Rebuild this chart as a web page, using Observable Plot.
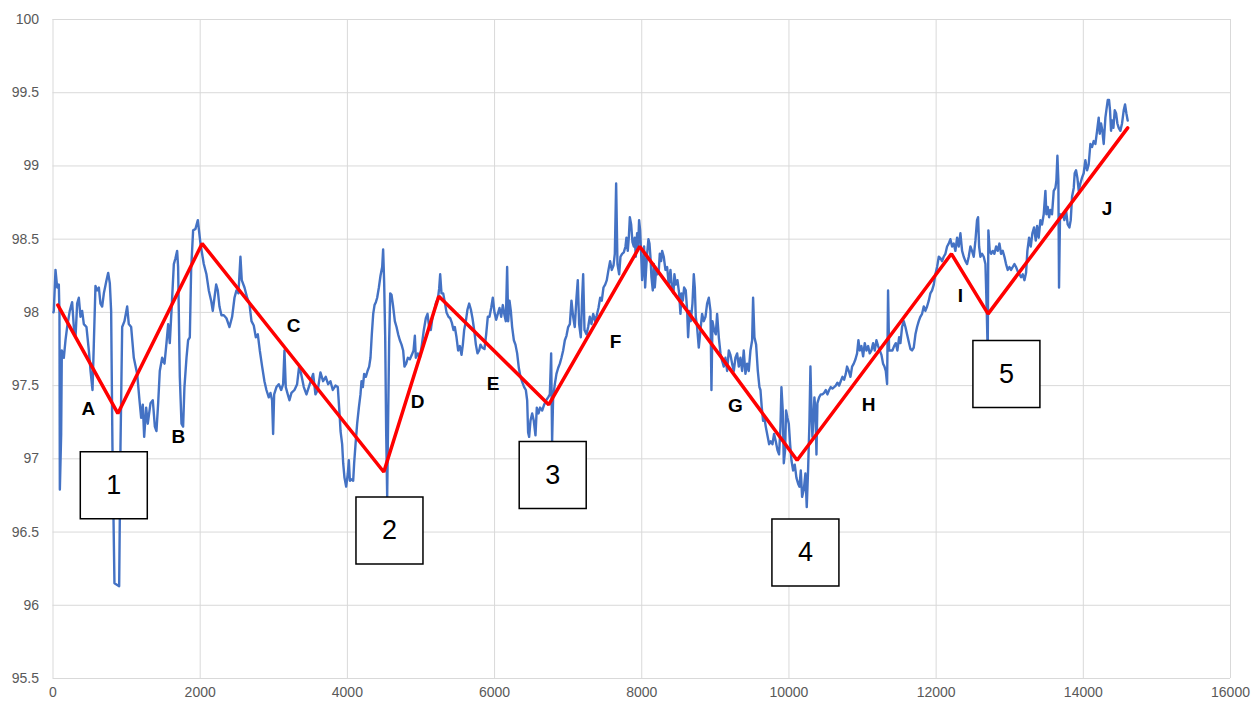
<!DOCTYPE html>
<html><head><meta charset="utf-8">
<script src="https://cdn.jsdelivr.net/npm/d3@7"></script>
<script src="https://cdn.jsdelivr.net/npm/@observablehq/plot@0.6"></script>
<style>html,body{margin:0;padding:0;background:#fff}#chart{width:1252px;height:704px}</style>
</head><body><div id="chart"></div>
<script>
const xTicks = [0, 2000, 4000, 6000, 8000, 10000, 12000, 14000, 16000];
const yTicks = [95.5, 96, 96.5, 97, 97.5, 98, 98.5, 99, 99.5, 100];

// blue measured series [x, value]
const series = [
[5,98.00],[11,98.01],[34,98.29],[57,98.17],[79,98.19],[88,97.99],[93,96.79],[111,97.17],[120,97.74],[147,97.69],[170,97.81],[192,97.90],[228,98.01],[260,98.07],[283,97.90],[306,97.83],[328,98.06],[351,98.10],[374,97.97],[396,98.01],[419,97.92],[455,97.90],[487,97.74],[510,97.60],[537,97.47],[555,97.79],[577,98.18],[600,98.15],[623,98.17],[645,98.06],[668,98.04],[691,98.13],[727,98.22],[750,98.27],[772,98.20],[790,98.01],[808,97.08],[835,96.15],[899,96.13],[917,97.08],[940,97.90],[971,97.94],[1008,98.04],[1030,97.92],[1062,97.90],[1098,97.69],[1144,97.58],[1175,97.40],[1198,97.28],[1220,97.37],[1239,97.15],[1266,97.35],[1288,97.24],[1325,97.38],[1356,97.40],[1384,97.22],[1406,97.19],[1429,97.38],[1451,97.60],[1483,97.69],[1515,97.65],[1542,97.79],[1565,97.92],[1587,97.79],[1610,98.01],[1642,98.33],[1664,98.37],[1687,98.42],[1700,98.31],[1723,97.56],[1746,97.24],[1768,97.22],[1786,97.49],[1814,97.69],[1836,97.81],[1859,97.83],[1877,98.29],[1904,98.56],[1936,98.57],[1968,98.63],
[2004,98.47],[2026,98.40],[2049,98.33],[2085,98.26],[2117,98.15],[2149,98.08],[2171,98.01],[2194,98.10],[2217,98.19],[2239,98.15],[2262,98.04],[2289,97.98],[2321,97.98],[2357,97.96],[2398,97.90],[2434,97.97],[2466,98.10],[2493,98.15],[2520,98.13],[2547,98.38],[2565,98.22],[2602,98.17],[2638,98.10],[2669,98.06],[2697,97.94],[2728,97.91],[2756,97.83],[2783,97.85],[2810,97.74],[2842,97.63],[2873,97.53],[2900,97.47],[2932,97.42],[2955,97.45],[2977,97.40],[2991,97.17],[3005,97.44],[3036,97.49],[3068,97.51],[3100,97.47],[3127,97.51],[3145,97.74],[3163,97.49],[3190,97.44],[3213,97.40],[3240,97.45],[3281,97.47],[3317,97.51],[3344,97.63],[3372,97.58],[3408,97.49],[3444,97.44],[3489,97.51],[3535,97.58],[3566,97.44],[3598,97.47],[3634,97.59],[3670,97.53],[3706,97.56],[3738,97.51],[3770,97.53],[3802,97.47],[3838,97.50],[3870,97.49],[3897,97.28],
[3907,97.19],[3929,97.10],[3943,96.97],[3961,96.87],[3984,96.81],[4006,96.90],[4020,96.99],[4034,96.85],[4056,96.86],[4079,96.85],[4092,96.97],[4111,97.10],[4133,97.24],[4156,97.35],[4178,97.44],[4192,97.53],[4210,97.49],[4228,97.58],[4251,97.56],[4274,97.60],[4296,97.63],[4314,97.69],[4332,97.85],[4351,97.99],[4369,98.05],[4387,98.07],[4405,98.10],[4428,98.17],[4450,98.25],[4473,98.31],[4486,98.43],[4500,98.20],[4514,97.83],[4527,97.19],[4541,96.74],[4554,97.28],[4568,97.81],[4582,98.13],[4600,98.12],[4622,98.04],[4645,97.94],[4668,97.90],[4690,97.85],[4713,97.81],[4736,97.78],[4758,97.74],[4776,97.63],[4799,97.65],[4822,97.69],[4849,97.68],[4876,97.71],[4899,97.74],[4917,97.84],[4930,97.69],[4957,97.72],[4985,97.69],[5012,97.78],[5039,97.88],[5066,97.96],[5089,97.99],[5111,97.90],[5134,97.88],[5157,97.97],[5179,98.01],[5207,98.07],[5229,98.09],[5247,98.16],[5261,98.26],[5279,98.13],[5302,98.13],[5324,98.07],[5347,98.00],[5374,97.97],[5397,97.96],[5419,97.93],[5442,97.88],[5460,97.90],[5483,97.83],[5505,97.74],[5528,97.77],[5551,97.71],[5569,97.78],[5587,97.88],[5610,97.94],[5632,98.02],[5655,98.06],[5678,98.02],[5700,97.96],[5723,97.88],[5746,97.78],[5768,97.72],[5791,97.74],[5809,97.78],
[5831,97.76],[5863,97.75],[5886,97.85],[5908,97.97],[5931,97.97],[5954,98.03],[5976,98.10],[5999,98.00],[6022,97.95],[6044,97.99],[6067,98.03],[6090,97.97],[6112,98.05],[6135,97.98],[6153,97.94],[6171,98.31],[6185,97.94],[6203,98.08],[6221,98.01],[6239,97.90],[6262,97.81],[6284,97.78],[6307,97.72],[6330,97.62],[6352,97.56],[6379,97.52],[6402,97.49],[6425,97.47],[6443,97.40],[6456,97.18],[6470,97.15],[6488,97.26],[6511,97.31],[6533,97.26],[6556,97.16],[6574,97.35],[6597,97.31],[6619,97.35],[6647,97.33],[6674,97.37],[6701,97.40],[6728,97.42],[6751,97.44],[6769,97.72],[6782,97.12],[6796,97.42],[6819,97.51],[6841,97.58],[6864,97.62],[6887,97.65],[6909,97.69],[6932,97.74],[6955,97.81],[6977,97.84],[7000,97.90],[7023,97.92],[7045,98.08],[7068,97.97],[7090,97.90],[7113,98.10],[7131,98.22],[7149,97.92],[7172,97.83],[7190,98.10],[7204,98.26],[7222,97.88],[7249,97.85],[7272,97.90],[7294,97.97],[7317,97.92],[7340,97.99],[7367,97.94],[7389,97.98],[7412,98.03],[7435,98.10],[7457,98.08],[7480,98.17],[7503,98.19],[7525,98.22],[7548,98.29],[7570,98.35],[7593,98.29],[7616,98.32],[7634,98.40],[7652,98.88],[7670,98.33],[7693,98.26],
[7711,98.38],[7733,98.40],[7756,98.41],[7779,98.45],[7792,98.51],[7810,98.42],[7824,98.51],[7838,98.65],[7856,98.60],[7874,98.48],[7892,98.45],[7905,98.51],[7919,98.38],[7937,98.54],[7951,98.45],[7964,98.63],[7978,98.56],[7992,98.40],[8005,98.22],[8019,98.31],[8032,98.45],[8046,98.17],[8059,98.29],[8073,98.40],[8091,98.50],[8105,98.47],[8118,98.38],[8132,98.24],[8150,98.15],[8164,98.33],[8177,98.17],[8195,98.29],[8213,98.26],[8232,98.29],[8245,98.40],[8263,98.35],[8277,98.42],[8299,98.38],[8322,98.29],[8345,98.31],[8367,98.19],[8390,98.29],[8413,98.15],[8431,98.13],[8444,98.26],[8463,98.19],[8485,98.22],[8508,98.13],[8526,97.99],[8540,98.13],[8558,98.08],[8576,98.17],[8598,98.15],[8617,98.01],[8630,97.83],[8648,98.01],[8666,97.94],[8689,98.06],[8707,98.26],[8721,98.17],[8734,97.97],[8752,97.90],[8775,97.76],[8798,97.88],[8820,97.99],[8843,97.94],[8866,97.97],[8888,98.06],[8911,98.10],[8934,98.01],[8947,97.47],[8961,97.94],[8983,97.88],[9006,97.85],[9024,97.99],[9047,97.83],[9070,97.72],[9092,97.67],[9115,97.63],[9137,97.69],[9160,97.60],[9183,97.74],[9205,97.71],[9228,97.65],[9251,97.60],[9273,97.69],[9296,97.72],[9319,97.63],[9341,97.69],[9364,97.60],[9386,97.74],[9409,97.58],[9432,97.65],[9454,97.60],[9477,97.74],[9500,97.81],[9513,98.10],[9531,97.83],[9554,97.78],[9577,97.60],[9599,97.49],
[9613,97.47],[9631,97.35],[9649,97.26],[9667,97.28],[9685,97.22],[9708,97.16],[9731,97.10],[9753,97.12],[9776,97.10],[9798,97.17],[9821,97.12],[9844,97.06],[9866,97.03],[9885,97.22],[9898,97.49],[9916,97.33],[9930,96.97],[9948,97.06],[9961,97.33],[9980,97.28],[9998,97.24],[10016,97.10],[10034,96.99],[10057,96.92],[10079,96.96],[10102,96.87],[10125,96.83],[10143,96.81],[10161,96.92],[10179,96.74],[10202,96.79],[10224,96.90],[10242,96.67],[10260,96.92],[10278,97.24],[10292,97.63],[10306,97.33],[10319,97.15],[10333,97.28],[10346,97.42],[10360,97.33],[10374,97.03],[10387,97.38],[10410,97.42],[10433,97.44],[10455,97.44],[10478,97.45],[10500,97.47],[10523,97.44],[10546,97.47],[10568,97.49],[10591,97.48],[10614,97.49],[10636,97.50],[10659,97.52],[10682,97.50],[10704,97.53],[10727,97.56],[10750,97.54],[10772,97.58],[10790,97.63],[10813,97.60],[10836,97.56],[10858,97.63],[10881,97.65],[10904,97.68],[10926,97.72],[10944,97.81],[10962,97.74],[10985,97.77],[11008,97.70],[11030,97.79],[11053,97.74],[11076,97.77],[11098,97.72],[11121,97.74],[11144,97.79],[11166,97.74],[11189,97.81],[11212,97.77],[11234,97.74],[11257,97.71],[11279,97.65],[11298,97.63],[11316,97.60],[11334,97.51],[11347,98.15],[11361,97.74],[11384,97.74],[11406,97.74],[11429,97.77],[11452,97.79],[11474,97.74],[11497,97.83],
[11515,97.79],[11537,97.90],[11560,97.94],[11583,97.90],[11605,97.85],[11628,97.80],[11651,97.75],[11673,97.74],[11696,97.76],[11719,97.85],[11741,97.90],[11764,97.94],[11786,97.97],[11809,97.99],[11832,98.04],[11854,98.01],[11877,98.04],[11900,98.08],[11922,98.13],[11945,98.15],[11968,98.19],[11990,98.26],[12013,98.31],[12036,98.38],[12058,98.37],[12081,98.35],[12103,98.38],[12126,98.40],[12149,98.45],[12171,98.47],[12194,98.50],[12217,98.45],[12239,98.47],[12262,98.42],[12285,98.51],[12307,98.45],[12330,98.54],[12353,98.42],[12375,98.38],[12398,98.35],[12421,98.33],[12443,98.38],[12466,98.45],[12488,98.42],[12511,98.38],[12534,98.49],[12556,98.63],[12570,98.65],[12584,98.45],[12602,98.38],[12624,98.40],[12647,98.38],[12670,98.33],[12688,98.01],[12701,97.72],[12710,98.56],[12728,98.42],[12747,98.40],[12769,98.42],[12792,98.40],[12815,98.45],[12837,98.42],[12860,98.47],[12882,98.40],[12905,98.42],[12928,98.38],[12950,98.33],[12973,98.29],[12996,98.31],[13018,98.29],[13041,98.31],[13064,98.33],[13086,98.31],[13109,98.28],[13132,98.26],[13154,98.24],[13177,98.26],[13200,98.22],[13222,98.27],[13240,98.42],[13263,98.51],[13286,98.45],[13308,98.54],[13331,98.58],[13354,98.49],[13372,98.59],[13394,98.51],
[13417,98.63],[13439,98.60],[13462,98.67],[13485,98.83],[13498,98.67],[13516,98.72],[13535,98.65],[13553,98.70],[13575,98.67],[13598,98.83],[13621,98.85],[13634,98.90],[13648,99.07],[13661,98.90],[13670,98.17],[13684,98.67],[13702,98.65],[13720,98.67],[13743,98.63],[13765,98.70],[13788,98.60],[13811,98.58],[13829,98.63],[13847,98.79],[13870,98.85],[13883,98.95],[13901,98.97],[13919,98.92],[13938,98.83],[13960,98.88],[13983,98.92],[14005,98.95],[14028,99.04],[14051,98.97],[14073,99.01],[14096,99.15],[14119,99.13],[14141,99.17],[14164,99.15],[14187,99.24],[14209,99.33],[14223,99.22],[14241,99.29],[14259,99.24],[14277,99.15],[14300,99.33],[14313,99.38],[14332,99.45],[14350,99.45],[14363,99.38],[14377,99.24],[14390,99.31],[14409,99.26],[14427,99.38],[14445,99.36],[14463,99.29],[14481,99.26],[14504,99.24],[14526,99.29],[14549,99.38],[14567,99.42],[14585,99.36],[14603,99.31]
];

// red trend zig-zag vertices
const trendX = [66, 881, 2027, 4495, 5242, 6737, 7973, 10111, 12208, 12706, 14603];
const trendY = [98.05, 97.31, 98.47, 96.91, 98.11, 97.37, 98.45, 96.99, 98.40, 97.99, 99.26];

// segment letters
const segLabels = ["A", "B", "C", "D", "E", "F", "G", "H", "I", "J"];
const segX = [482, 1705, 3268, 4955, 5981, 7645, 9273, 11084, 12330, 14323];
const segY = [97.34, 97.15, 97.91, 97.39, 97.51, 97.80, 97.36, 97.37, 98.11, 98.71];

// numbered boxes
const boxLabels = ["1", "2", "3", "4", "5"];
const boxX = [826, 4572, 6790, 10224, 12955];
const boxY = [96.82, 96.51, 96.89, 96.36, 97.58];

const trend = trendX.map((x, i) => ({x, y: trendY[i]}));
const segs = segLabels.map((t, i) => ({t, x: segX[i], y: segY[i]}));
const boxes = boxLabels.map((t, i) => ({t, x: boxX[i], y: boxY[i]}));

const chart = Plot.plot({
  width: 1252,
  height: 704,
  marginLeft: 52.5,
  marginRight: 22,
  marginTop: 19,
  marginBottom: 26,
  style: {fontFamily: "'Liberation Sans', Arial, sans-serif", fontSize: "14px", color: "#595959", background: "#fff", overflow: "visible"},
  x: {domain: [0, 16000], ticks: xTicks, tickFormat: d => String(d), tickSize: 0, tickPadding: 9, label: null},
  y: {domain: [95.5, 100], ticks: yTicks, tickFormat: d => String(d), tickSize: 0, tickPadding: 14, label: null},
  marks: [
    Plot.ruleX(xTicks, {stroke: "#d9d9d9", strokeWidth: 1}),
    Plot.ruleY(yTicks, {stroke: "#d9d9d9", strokeWidth: 1}),
    Plot.line(series, {x: d => d[0], y: d => d[1], stroke: "#4472c4", strokeWidth: 2.4, strokeLinejoin: "round"}),
    Plot.line(trend, {x: "x", y: "y", stroke: "#ff0000", strokeWidth: 3.5, strokeLinejoin: "miter"}),
    Plot.text(segs, {x: "x", y: "y", text: "t", fill: "#000", fontWeight: "bold", fontSize: 19}),
    Plot.dot(boxes, {x: "x", y: "y", symbol: "square", r: 37.8, fill: "#fff", stroke: "#000", strokeWidth: 1.5}),
    Plot.text(boxes, {x: "x", y: "y", text: "t", fill: "#000", fontSize: 27})
  ]
});
document.getElementById("chart").appendChild(chart);
</script>
</body></html>
